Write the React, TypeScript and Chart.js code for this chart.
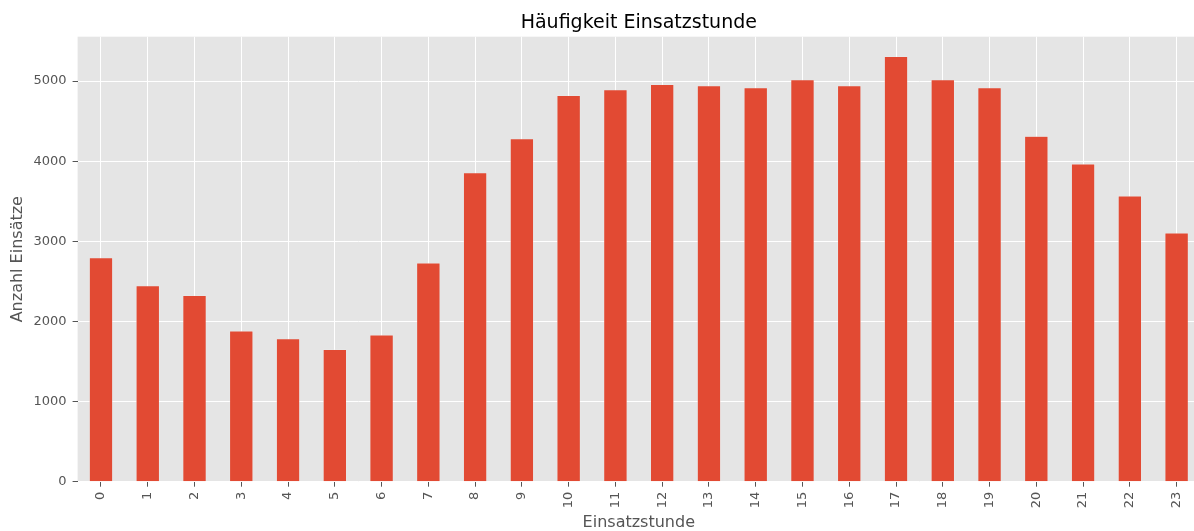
import React, { useEffect, useRef } from "react";
import { Chart, registerables } from "chart.js";

Chart.register(...registerables);

const hours: string[] = [
  "0", "1", "2", "3", "4", "5", "6", "7", "8", "9", "10", "11",
  "12", "13", "14", "15", "16", "17", "18", "19", "20", "21", "22", "23",
];
const counts: number[] = [
  2795, 2445, 2325, 1880, 1785, 1650, 1830, 2730, 3855, 4280, 4820, 4890,
  4955, 4940, 4915, 5015, 4940, 5305, 5015, 4915, 4310, 3965, 3565, 3105,
];
const yTickValues: number[] = [0, 1000, 2000, 3000, 4000, 5000];

const chartTitle = "Häufigkeit Einsatzstunde";
const xTitle = "Einsatzstunde";
const yTitle = "Anzahl Einsätze";

const FONT = "'DejaVu Sans', sans-serif";

const bgPlugin = {
  id: "plotBg",
  beforeDraw(chart: any) {
    const { ctx, chartArea } = chart;
    if (!chartArea) return;
    ctx.save();
    ctx.fillStyle = "#E5E5E5";
    ctx.fillRect(chartArea.left, chartArea.top, chartArea.right - chartArea.left, chartArea.bottom - chartArea.top);
    ctx.restore();
  },
};

export default function App() {
  const ref = useRef<HTMLCanvasElement | null>(null);

  useEffect(() => {
    if (!ref.current) return;
    const chart = new Chart(ref.current, {
      type: "bar",
      data: {
        labels: hours,
        datasets: [
          {
            data: counts,
            backgroundColor: "#E24A33",
            borderColor: "#EEEEEE",
            borderWidth: 0.5,
            barPercentage: 0.5,
            categoryPercentage: 1,
          },
        ],
      },
      options: {
        animation: false,
        responsive: false,
        layout: { padding: 0 },
        plugins: {
          legend: { display: false },
          tooltip: { enabled: false },
          title: {
            display: true,
            fullSize: false,
            text: chartTitle,
            color: "#000000",
            font: { family: FONT, size: 19, weight: "normal", lineHeight: 1.2 },
            padding: { top: 11.5, bottom: 2.4 },
          },
        },
        scales: {
          x: {
            type: "category",
            offset: true,
            grid: {
              offset: false,
              color: "#FFFFFF",
              lineWidth: 1,
              drawTicks: true,
              tickLength: 5,
              tickColor: "#555555",
              tickWidth: 1,
            },
            border: { display: false },
            ticks: {
              color: "#555555",
              font: { family: FONT, size: 13 },
              minRotation: 90,
              maxRotation: 90,
              padding: 5,
              autoSkip: false,
            },
            title: {
              display: true,
              text: xTitle,
              color: "#555555",
              font: { family: FONT, size: 16, lineHeight: 1 },
              padding: { top: 0, bottom: 0 },
            },
            afterFit(scale: any) {
              scale.height = 531 - 481.7;
            },
          },
          y: {
            type: "linear",
            min: 0,
            max: 5553,
            grid: {
              color: "#FFFFFF",
              lineWidth: 1,
              drawTicks: true,
              tickLength: 5,
              tickColor: "#555555",
              tickWidth: 1,
            },
            border: { display: false },
            ticks: {
              stepSize: 1000,
              color: "#555555",
              font: { family: FONT, size: 13 },
              padding: 6,
              callback: (v: any) => String(v),
            },
            afterBuildTicks(scale: any) {
              scale.ticks = yTickValues.map((v) => ({ value: v }));
            },
            title: {
              display: true,
              text: yTitle,
              color: "#555555",
              font: { family: FONT, size: 16, lineHeight: 1.2 },
              padding: { top: 8.4, bottom: 0 },
            },
            afterFit(scale: any) {
              scale.width = 77.6;
            },
          },
        },
      },
      plugins: [bgPlugin],
    });
    return () => chart.destroy();
  }, []);

  return (
    <div
      style={{
        position: "fixed",
        left: 0,
        top: 0,
        width: 1194,
        height: 531,
        overflow: "hidden",
        background: "#FFFFFF",
      }}
    >
      <canvas ref={ref} width={1200} height={531} style={{ display: "block" }} />
    </div>
  );
}
